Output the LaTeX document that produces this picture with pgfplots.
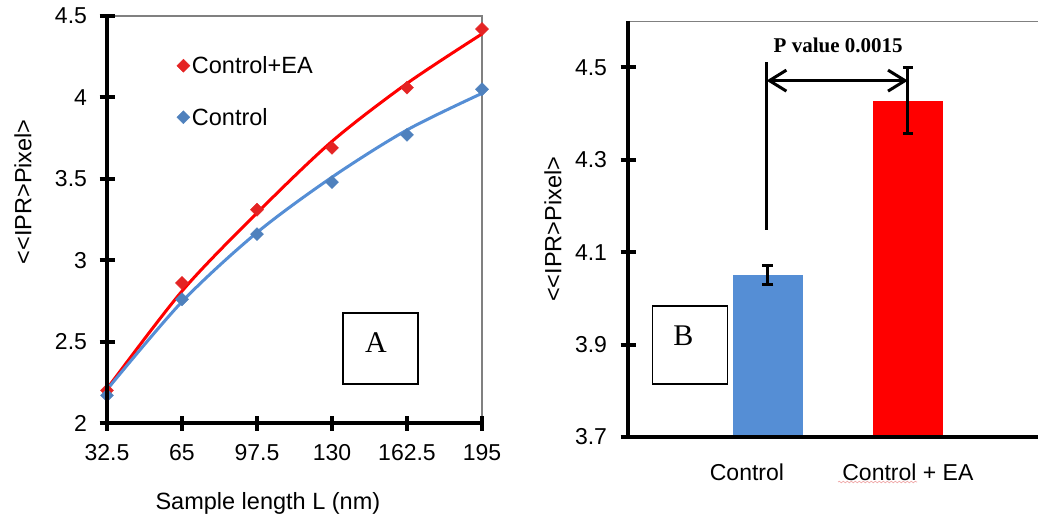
\documentclass[border=0pt]{standalone}
\usepackage{fontspec}
\setmainfont{Liberation Sans}
\newfontfamily\seriffont{Liberation Serif}
\usepackage{pgfplots}
\pgfplotsset{compat=1.18}
\usetikzlibrary{arrows.meta,decorations.pathmorphing}
\definecolor{cblue}{RGB}{85,142,213}
\definecolor{mblue}{RGB}{79,129,189}
\definecolor{mred}{RGB}{228,36,36}
\definecolor{cgray}{RGB}{128,128,128}
\definecolor{squig}{RGB}{240,170,170}
\begin{document}
\begin{tikzpicture}[x=1pt,y=1pt]
\path[use as bounding box] (0,0) rectangle (1038,520);
% ---------- Panel A ----------
\begin{axis}[
  at={(107pt,97pt)}, anchor=south west,
  width=375pt, height=407pt, scale only axis,
  xmin=32.5, xmax=195, ymin=2, ymax=4.5,
  axis lines=left, axis line style={draw=none},
  clip=false,
  xtick={32.5,65,97.5,130,162.5,195},
  xticklabels={32.5,65,97.5,130,162.5,195},
  ytick={2,2.5,3,3.5,4,4.5},
  yticklabels={2,2.5,3,3.5,4,4.5},
  tick align=center, major tick length=13pt,
  tick style={draw=none},
  tick label style={font=\fontsize{23}{27}\selectfont},
  xticklabel style={yshift=-11pt},
  yticklabel style={xshift=-10pt},
  xlabel={Sample length L (nm)},
  xlabel style={at={(axis description cs:0.429,-0.197)}, anchor=center, font=\fontsize{23.5}{28}\selectfont},
  ylabel={<{}<IPR>Pixel>},
  ylabel style={at={(axis description cs:-0.224,0.568)}, anchor=center, font=\fontsize{23.5}{28}\selectfont},
  legend style={draw=none, fill=none, at={(axis description cs:0.186,0.906)}, anchor=north west,
    font=\fontsize{23.5}{28}\selectfont, row sep=29pt, inner sep=0pt},
  legend cell align=left,
  /pgf/number format/assume math mode=true,
]
\draw[cgray, line width=1.3pt] (rel axis cs:0,1) -- (rel axis cs:1,1) -- (rel axis cs:1,0);
\addplot[only marks, mark=square*, mark size=4.6pt, mark options={rotate=45, fill=mred, draw=mred}]
  coordinates {(32.5,2.20)(65,2.86)(97.5,3.31)(130,3.69)(162.5,4.06)(195,4.42)};
\addlegendentry{Control+EA}
\addplot[only marks, mark=square*, mark size=4.6pt, mark options={rotate=45, fill=mblue, draw=mblue}]
  coordinates {(32.5,2.17)(65,2.76)(97.5,3.16)(130,3.48)(162.5,3.77)(195,4.05)};
\addlegendentry{Control}
\addplot[red, line width=3pt, smooth, forget plot]
  coordinates {(32.5,2.21)(65,2.81)(97.5,3.29)(130,3.73)(162.5,4.086)(195,4.39)};
\addplot[cblue, line width=3pt, smooth, forget plot]
  coordinates {(32.5,2.205)(65,2.745)(97.5,3.17)(130,3.51)(162.5,3.80)(195,4.025)};
\end{axis}
% axis lines and ticks of panel A (axis frame: x 107..482, y 97..504)
\draw[line width=4pt, black] (107,504) -- (107,97) -- (482,97);
\foreach \yy in {97,178.4,259.8,341.2,422.6,504}{
  \draw[line width=3.8pt, black] (99.5,\yy) -- (114.5,\yy);
}
\foreach \xx in {107,182,257,332,407,482}{
  \draw[line width=3.8pt, black] (\xx,89.5) -- (\xx,104.5);
}
\draw[line width=1.5pt] (343,136) rectangle (418,207);
\node[font=\seriffont\fontsize{30}{34}\selectfont] at (376,177) {A};
% ---------- Panel B ----------
\begin{axis}[
  at={(628pt,83pt)}, anchor=south west,
  width=410pt, height=416pt, scale only axis,
  xmin=0, xmax=2.93, ymin=3.7, ymax=4.6,
  axis lines=left, axis line style={draw=none},
  xtick={1,2},
  xticklabels={{Control\hspace*{42pt}},{Control + EA}},
  ytick={3.7,3.9,4.1,4.3,4.5},
  yticklabels={3.7,3.9,4.1,4.3,4.5},
  tick align=center, major tick length=13pt,
  tick style={draw=none},
  tick label style={font=\fontsize{23}{27}\selectfont},
  xticklabel style={yshift=-10pt},
  yticklabel style={xshift=-11pt},
  ylabel={<{}<IPR>Pixel>},
  ylabel style={at={(axis description cs:-0.183,0.499)}, anchor=center, font=\fontsize{23.5}{28}\selectfont},
  ybar, bar width=69.4pt,
  /pgf/number format/assume math mode=true,
]
\draw[cgray, line width=1.3pt] (rel axis cs:0,1) -- (rel axis cs:1,1);
\addplot[fill=cblue, draw=none, bar shift=0pt,
  error bars/.cd, y dir=both, y explicit,
  error bar style={line width=3pt, black},
  error mark options={rotate=90, mark size=5.5pt, line width=3pt, black}]
  coordinates {(1,4.05) +- (0,0.02)};
\addplot[fill=red, draw=none, bar shift=0pt,
  error bars/.cd, y dir=both, y explicit,
  error bar style={line width=3pt, black},
  error mark options={rotate=90, mark size=5pt, line width=3pt, black}]
  coordinates {(2,4.4275) +- (0,0.0715)};
\draw[line width=3pt] (axis cs:0.99,4.148) -- (axis cs:0.99,4.512);
\draw[line width=3pt, {Straight Barb[length=17pt,width=21pt]}-{Straight Barb[length=17pt,width=21pt]}]
  (axis cs:0.99,4.471) -- (axis cs:2,4.471);
\node[font=\seriffont\bfseries\fontsize{21}{25}\selectfont] at (axis cs:1.502,4.548) {P value 0.0015};
\end{axis}
% axis lines and ticks of panel B (axis frame: x 628..1038, y 83..499)
\draw[line width=4pt, black] (628,499) -- (628,83) -- (1038,83);
\foreach \yy in {83,175.4,267.9,360.3,452.8}{
  \draw[line width=3.8pt, black] (620.5,\yy) -- (635.5,\yy);
}
\draw[squig, line width=0.7pt, decorate, decoration={snake, amplitude=0.8pt, segment length=4pt}] (838,38) -- (917,38);
\draw[line width=1.5pt] (652.7,136) rectangle (727.3,214);
\node[font=\seriffont\fontsize{30}{34}\selectfont] at (683.3,184) {B};
\end{tikzpicture}
\end{document}
